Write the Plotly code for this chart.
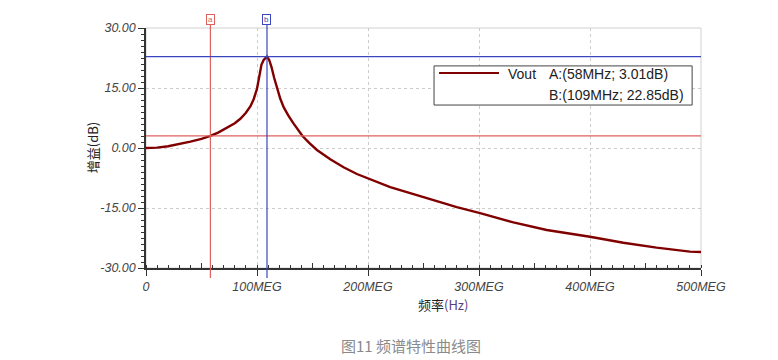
import plotly.graph_objects as go

# ---- data ----
freq_mhz = [0, 10, 20, 30, 40, 50, 58, 65, 73, 80, 85, 90, 94, 97, 100, 102, 104, 106, 109,
            111, 113, 115.5, 118, 121, 124, 128, 133, 137, 141, 147, 154, 166, 178, 190, 200,
            220, 250, 280, 301, 331, 361, 400, 430, 460, 490, 500]
gain_db = [0, 0.1, 0.45, 1.0, 1.6, 2.3, 3.01, 3.85, 5.0, 6.2, 7.3, 8.8, 10.4, 12.2, 14.8, 17.5,
           20.8, 22.0, 22.85, 22.0, 20.3, 17.5, 15.0, 12.3, 10.2, 8.2, 6.1, 4.5, 3.0, 1.3, -0.5,
           -2.8, -4.8, -6.5, -7.6, -9.8, -12.3, -14.8, -16.3, -18.6, -20.5, -22.2, -23.7, -24.9,
           -25.9, -26.0]

x_tickvals = [0, 100, 200, 300, 400, 500]
x_ticktext = ["0", "100MEG", "200MEG", "300MEG", "400MEG", "500MEG"]
y_tickvals = [-30, -15, 0, 15, 30]
y_ticktext = ["-30.00", "-15.00", "0.00", "15.00", "30.00"]

cursor_a = (58, 3.01)
cursor_b = (109, 22.85)
series_name = "Vout"

RED = "#e06060"
BLUE = "#3a45c0"
CURVE = "#800000"
AXIS = "#333333"
GRID = "#cccccc"
FONT = "Liberation Sans, Arial, sans-serif"
CJK = "Noto Sans CJK SC, sans-serif"

fig = go.Figure()
fig.add_trace(go.Scatter(x=freq_mhz, y=gain_db, mode="lines",
                         line=dict(color=CURVE, width=2.4), name=series_name,
                         showlegend=False, hoverinfo="x+y"))
# dummy trace for medium-tick overlay axes
fig.add_trace(go.Scatter(x=[None], y=[None], xaxis="x2", yaxis="y2", showlegend=False))

# page body has an 8px margin: figure is 770x352 and left/top margins are reduced accordingly
fig.update_layout(
    width=770, height=352,
    margin=dict(l=138, r=77, t=20, b=92),
    paper_bgcolor="white", plot_bgcolor="white",
    font=dict(family=FONT, color="#444"),
    xaxis=dict(range=[0, 500], tickvals=x_tickvals, ticktext=x_ticktext,
               ticks="outside", ticklen=6, tickcolor=AXIS, tickwidth=1,
               showline=True, linecolor=AXIS, linewidth=1.5, zeroline=False,
               showgrid=True, gridcolor=GRID, griddash="3px,3px", gridwidth=1,
               tickfont=dict(size=12.5, style="italic", color="#444", family=FONT),
               minor=dict(dtick=10, ticks="inside", ticklen=3, tickcolor=AXIS, showgrid=False),
               fixedrange=True),
    yaxis=dict(range=[-30, 30], tickvals=y_tickvals, ticktext=y_ticktext,
               ticks="outside", ticklen=6, tickcolor=AXIS, tickwidth=1,
               showline=True, linecolor=AXIS, linewidth=1.5, zeroline=False,
               showgrid=True, gridcolor=GRID, griddash="3px,3px", gridwidth=1,
               tickfont=dict(size=12.5, style="italic", color="#444", family=FONT),
               minor=dict(dtick=1.5, ticks="outside", ticklen=3, tickcolor=AXIS, showgrid=False),
               fixedrange=True),
    xaxis2=dict(overlaying="x", anchor="y", range=[0, 500], tickvals=[50, 150, 250, 350, 450],
                ticks="inside", ticklen=5, tickcolor=AXIS, showticklabels=False,
                showgrid=False, zeroline=False, showline=False, side="bottom"),
    yaxis2=dict(overlaying="y", anchor="x", range=[-30, 30], tickvals=[-22.5, -7.5, 7.5, 22.5],
                ticks="outside", ticklen=4, tickcolor=AXIS, showticklabels=False,
                showgrid=False, zeroline=False, showline=False, side="left"),
    showlegend=False,
)

shapes = []
# light plot border (top / right)
shapes.append(dict(type="rect", xref="paper", yref="paper", x0=0, x1=1, y0=0, y1=1,
                   line=dict(color="#d0d0d0", width=1), layer="below"))
# cursor lines
for (cx, cy), col in ((cursor_a, RED), (cursor_b, BLUE)):
    shapes.append(dict(type="line", xref="x", yref="paper", x0=cx, x1=cx, y0=-0.042, y1=1.012,
                       line=dict(color=col, width=1.2)))
    shapes.append(dict(type="line", xref="paper", yref="y", x0=0, x1=1, y0=cy, y1=cy,
                       line=dict(color=col, width=1.2)))
# legend box
shapes.append(dict(type="rect", xref="paper", yref="paper", x0=0.519, x1=0.984, y0=0.679, y1=0.842,
                   line=dict(color="#444", width=1), fillcolor="white"))
shapes.append(dict(type="line", xref="paper", yref="paper", x0=0.528, x1=0.636, y0=0.812, y1=0.812,
                   line=dict(color=CURVE, width=2)))
fig.update_layout(shapes=shapes)

ann = []
# cursor flags
for (cx, cy), col, lab in ((cursor_a, RED, "a"), (cursor_b, BLUE, "b")):
    ann.append(dict(x=cx, xref="x", y=1.035, yref="paper", text=lab, showarrow=False,
                    font=dict(size=8, color=col, family=FONT), bordercolor=col, borderwidth=1,
                    borderpad=0, bgcolor="white", xanchor="center", yanchor="middle", width=7,
                    height=9))
# legend texts
ann.append(dict(x=0.649, y=0.808, xref="paper", yref="paper", text=series_name, showarrow=False,
                xanchor="left", yanchor="middle", font=dict(size=14, color="#222", family=FONT)))
ann.append(dict(x=0.722, y=0.808, xref="paper", yref="paper",
                text=f"A:({cursor_a[0]}MHz; {cursor_a[1]:.2f}dB)", showarrow=False,
                xanchor="left", yanchor="middle", font=dict(size=14, color="#222", family=FONT)))
ann.append(dict(x=0.722, y=0.72, xref="paper", yref="paper",
                text=f"B:({cursor_b[0]}MHz; {cursor_b[1]:.2f}dB)", showarrow=False,
                xanchor="left", yanchor="middle", font=dict(size=14, color="#222", family=FONT)))
# axis titles
ann.append(dict(x=-0.097, y=0.5, xref="paper", yref="paper", text="增益(dB)", textangle=-90,
                showarrow=False, xanchor="center", yanchor="middle",
                font=dict(size=13, color="#222", family=CJK)))
ann.append(dict(x=0.535, y=-0.154, xref="paper", yref="paper",
                text="频率<span style='color:#5a3d7a'>(Hz)</span>",
                showarrow=False, xanchor="center", yanchor="middle",
                font=dict(size=13, color="#222", family=CJK)))
# caption
ann.append(dict(x=0.478, y=-0.321, xref="paper", yref="paper", text="图11 频谱特性曲线图",
                showarrow=False, xanchor="center", yanchor="middle",
                font=dict(size=15, color="#8a8a8a", family=CJK)))
fig.update_layout(annotations=ann)

fig.write_html("out.html")
